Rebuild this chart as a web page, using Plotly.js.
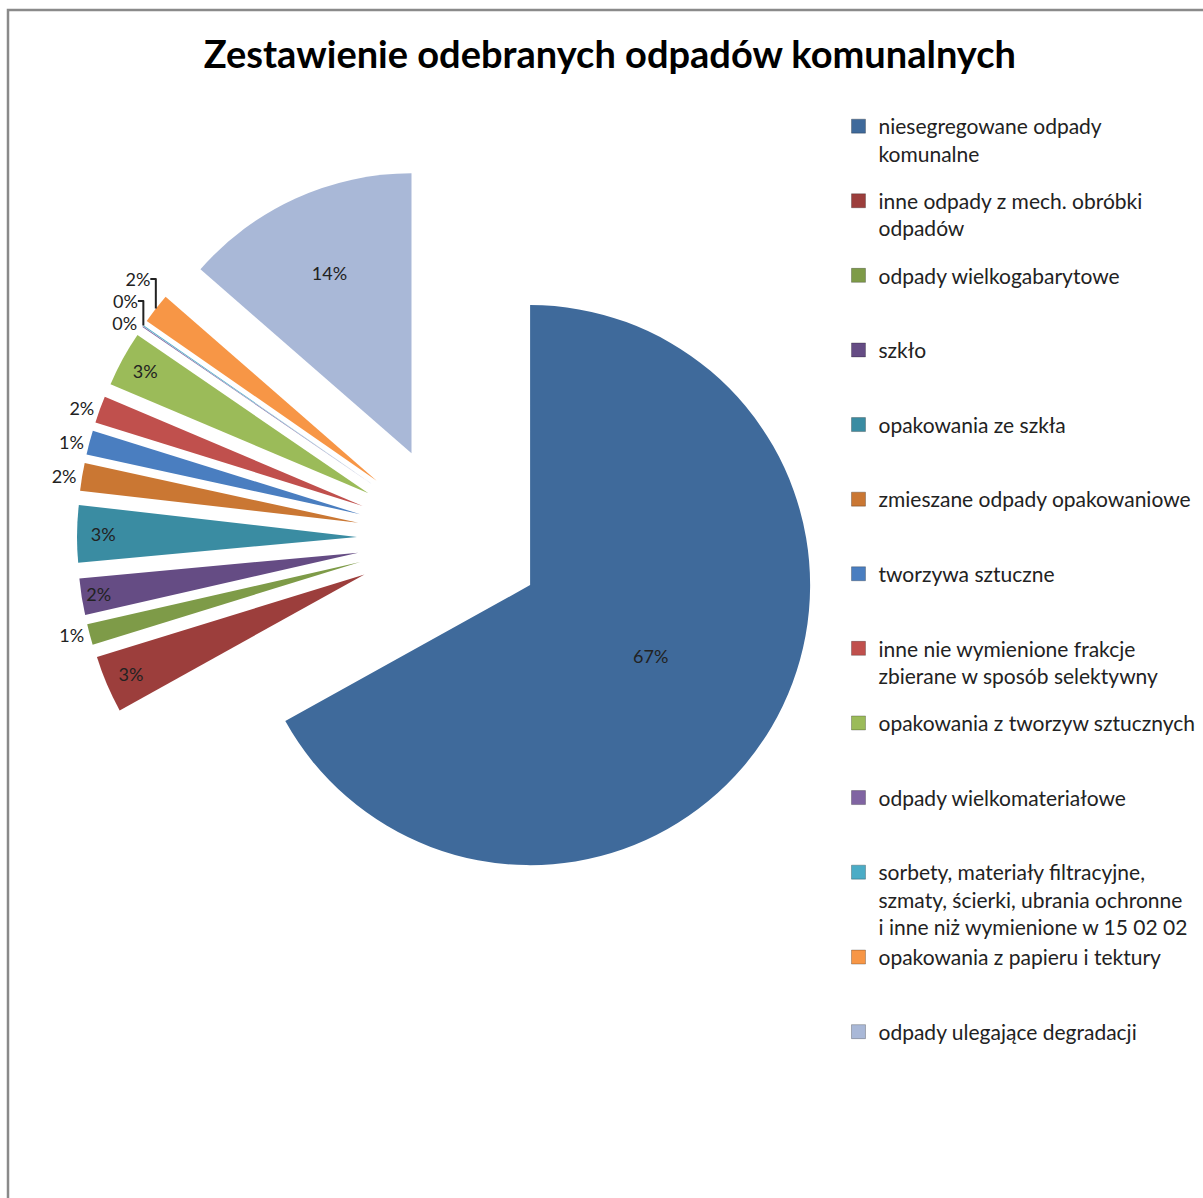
<!DOCTYPE html>
<html>
<head>
<meta charset="utf-8">
<script src="https://cdn.plot.ly/plotly-3.0.1.min.js"></script>
<style>html,body{margin:0;padding:0;background:#fff;}</style>
</head>
<body>
<div id="chart" style="width:1203px;height:1198px;"></div>
<script>
// Categories (legend order = slice order, clockwise from 12 o'clock)
const categories = [
  "niesegregowane odpady komunalne",
  "inne odpady z mech. obróbki odpadów",
  "odpady wielkogabarytowe",
  "szkło",
  "opakowania ze szkła",
  "zmieszane odpady opakowaniowe",
  "tworzywa sztuczne",
  "inne nie wymienione frakcje zbierane w sposób selektywny",
  "opakowania z tworzyw sztucznych",
  "odpady wielkomateriałowe",
  "sorbety, materiały filtracyjne, szmaty, ścierki, ubrania ochronne i inne niż wymienione w 15 02 02",
  "opakowania z papieru i tektury",
  "odpady ulegające degradacji"
];
// Legend texts as wrapped in the reference
const legendLabels = [
  "niesegregowane odpady<br>komunalne",
  "inne odpady z mech. obróbki<br>odpadów",
  "odpady wielkogabarytowe<br>\u00A0",
  "szkło<br>\u00A0",
  "opakowania ze szkła<br>\u00A0",
  "zmieszane odpady opakowaniowe<br>\u00A0",
  "tworzywa sztuczne<br>\u00A0",
  "inne nie wymienione frakcje<br>zbierane w sposób selektywny",
  "opakowania z tworzyw sztucznych<br>\u00A0",
  "odpady wielkomateriałowe<br>\u00A0",
  "sorbety, materiały filtracyjne,<br>szmaty, ścierki, ubrania ochronne<br>i inne niż wymienione w 15 02 02",
  "opakowania z papieru i tektury<br>\u00A0",
  "odpady ulegające degradacji<br>\u00A0"
];
// Legend grouping (the 3-line entry sits tight against the next one, as in the reference)
const legendGroups = ["g0", "g1", "g2", "g3", "g4", "g5", "g6", "g7", "g8", "g9", "g10", "g10", "g12"];
// Shares (%)
const shares = [67.0, 3.3, 1.2, 2.1, 3.3, 1.6, 1.4, 1.55, 3.2, 0.05, 0.05, 1.75, 13.6];
const colors = ["#3F6A9B", "#9C3E3C", "#7E9B48", "#654C84", "#3A8CA2", "#CA7733",
                "#4A7EC0", "#C0504D", "#9BBB59", "#8064A2", "#4BACC6", "#F79646", "#A9B8D7"];
const labelPositions = ["inside", "inside", "outside", "inside", "inside", "outside",
                        "outside", "outside", "inside", "outside", "outside", "outside", "inside"];

const FONT = "Lato, 'Open Sans', sans-serif";

const traces = [{
  type: "pie",
  labels: categories,
  values: shares,
  sort: false,
  direction: "clockwise",
  rotation: 0,
  pull: 0.332,
  marker: {colors: colors, line: {width: 0}},
  texttemplate: "%{percent:.0%}",
  textposition: labelPositions,
  insidetextorientation: "horizontal",
  textfont: {family: FONT, size: 18, color: "#222"},
  outsidetextfont: {family: FONT, size: 18, color: "#222"},
  insidetextfont: {family: FONT, size: 18, color: "#222"},
  showlegend: false,
  hoverinfo: "label+percent",
  domain: {x: [0.0640, 0.6841], y: [0.2396, 0.8623]}
}];

// Legend entries (one per category, evenly spaced as in the reference)
categories.forEach((c, i) => {
  traces.push({
    type: "scatter",
    mode: "markers",
    x: [null], y: [null],
    name: legendLabels[i],
    legendgroup: legendGroups[i],
    marker: {symbol: "square", size: 14, color: colors[i], line: {width: 1, color: "rgba(0,0,0,0.25)"}},
    showlegend: true,
    hoverinfo: "skip"
  });
});

const layout = {
  width: 1203,
  height: 1198,
  margin: {l: 0, r: 0, t: 0, b: 0},
  paper_bgcolor: "#ffffff",
  plot_bgcolor: "rgba(0,0,0,0)",
  title: {
    text: "<b>Zestawienie odebranych odpadów komunalnych</b>",
    font: {family: FONT, size: 38, color: "#000"},
    x: 0.507, xanchor: "center",
    y: 1 - 55 / 1198, yanchor: "middle", yref: "container"
  },
  xaxis: {visible: false},
  yaxis: {visible: false},
  showlegend: true,
  legend: {
    x: 0.697, xanchor: "left",
    y: 1 - 106 / 1198, yanchor: "top",
    font: {family: FONT, size: 21, color: "#222"},
    valign: "top",
    tracegroupgap: 17,
    bgcolor: "rgba(0,0,0,0)",
    itemclick: false
  },
  shapes: [{
    type: "rect", xref: "paper", yref: "paper",
    x0: 8 / 1203, x1: 1.02, y0: -0.02, y1: 1 - 10 / 1198,
    line: {color: "#8a8a8a", width: 2.5}, fillcolor: "rgba(0,0,0,0)"
  }]
};

Plotly.newPlot("chart", traces, layout, {displayModeBar: false, staticPlot: true});
</script>
</body>
</html>
